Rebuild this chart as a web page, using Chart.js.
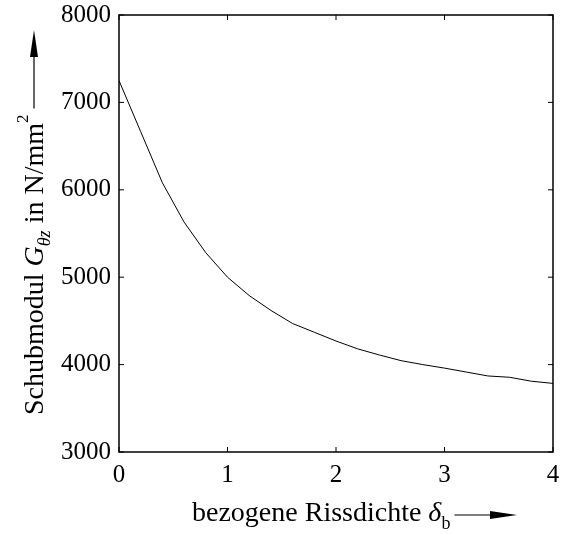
<!DOCTYPE html>
<html>
<head>
<meta charset="utf-8">
<script src="https://cdn.jsdelivr.net/npm/chart.js@4.4.0/dist/chart.umd.min.js"></script>
<style>
  body { margin: 0; background: #fff; }
  #wrap { width: 564px; height: 534px; }
</style>
</head>
<body>
<div id="wrap"><canvas id="shearChart" width="564" height="534"></canvas></div>
<script>
// bezogene Rissdichte (x) and Schubmodul (y)
const crackDensity = [0, 0.2, 0.4, 0.6, 0.8, 1.0, 1.2, 1.4, 1.6, 1.8, 2.0,
                      2.2, 2.4, 2.6, 2.8, 3.0, 3.2, 3.4, 3.6, 3.8, 4.0];
const shearModulus = [7250, 6665, 6080, 5630, 5280, 5000, 4790, 4620, 4470, 4370, 4270,
                      4180, 4110, 4045, 4000, 3960, 3915, 3870, 3855, 3810, 3785];
const xTicks = [0, 1, 2, 3, 4];
const yTicks = [3000, 4000, 5000, 6000, 7000, 8000];

const SERIF = '"Liberation Serif", "Times New Roman", serif';

function drawRich(ctx, parts, x, y) {
    parts.forEach(p => {
        ctx.font = p.font;
        ctx.fillText(p.text, x, y + (p.dy || 0));
        x += ctx.measureText(p.text).width;
    });
    return x;
}

function drawArrow(ctx, x1, x2, y) {
    ctx.beginPath();
    ctx.moveTo(x1, y);
    ctx.lineTo(x2 - 20, y);
    ctx.stroke();
    ctx.beginPath();
    ctx.moveTo(x2, y);
    ctx.lineTo(x2 - 27, y - 4);
    ctx.lineTo(x2 - 27, y + 4);
    ctx.closePath();
    ctx.fill();
}

const framePlugin = {
    id: 'frame',
    afterDraw(chart) {
        const { ctx, chartArea: a, scales: { x, y } } = chart;
        ctx.save();
        ctx.strokeStyle = '#000';
        ctx.fillStyle = '#000';

        ctx.lineWidth = 1.5;
        ctx.strokeRect(a.left, a.top, a.right - a.left, a.bottom - a.top);

        // inward ticks on all four sides
        ctx.lineWidth = 1;
        ctx.beginPath();
        xTicks.forEach(v => {
            const px = x.getPixelForValue(v);
            ctx.moveTo(px, a.bottom); ctx.lineTo(px, a.bottom - 5);
            ctx.moveTo(px, a.top); ctx.lineTo(px, a.top + 5);
        });
        yTicks.forEach(v => {
            const py = y.getPixelForValue(v);
            ctx.moveTo(a.left, py); ctx.lineTo(a.left + 5, py);
            ctx.moveTo(a.right, py); ctx.lineTo(a.right - 5, py);
        });
        ctx.stroke();

        ctx.textBaseline = 'alphabetic';
        ctx.textAlign = 'left';
        ctx.lineWidth = 1.2;

        // x title
        let end = drawRich(ctx, [
            { text: 'bezogene Rissdichte ', font: '28px ' + SERIF },
            { text: 'δ', font: 'italic 28px ' + SERIF },
            { text: 'b', font: '18px ' + SERIF, dy: 8 }
        ], 192, 521);
        drawArrow(ctx, end + 4, 517, 515);

        // y title, rotated
        ctx.save();
        ctx.translate(43, 415);
        ctx.rotate(-Math.PI / 2);
        end = drawRich(ctx, [
            { text: 'Schubmodul ', font: '28px ' + SERIF },
            { text: 'G', font: 'italic 28px ' + SERIF },
            { text: 'θz', font: 'italic 18px ' + SERIF, dy: 7 },
            { text: ' in N/mm', font: '28px ' + SERIF },
            { text: '2', font: '17px ' + SERIF, dy: -15 }
        ], 0, 0);
        drawArrow(ctx, end + 6, 385, -9);
        ctx.restore();

        ctx.restore();
    }
};

new Chart(document.getElementById('shearChart'), {
    type: 'line',
    data: {
        datasets: [{
            data: crackDensity.map((v, i) => ({ x: v, y: shearModulus[i] })),
            borderColor: '#000',
            borderWidth: 1,
            pointRadius: 0,
            tension: 0,
            fill: false
        }]
    },
    options: {
        responsive: false,
        animation: false,
        layout: { padding: { top: 15, right: 11, left: 0, bottom: 0 } },
        plugins: {
            legend: { display: false },
            tooltip: { enabled: false }
        },
        scales: {
            x: {
                type: 'linear',
                min: 0,
                max: 4,
                afterBuildTicks: s => { s.ticks = xTicks.map(v => ({ value: v })); },
                afterFit: s => {
                    s.height = 82;
                    s.paddingLeft = 0;
                    s.paddingRight = 0;
                },
                grid: { display: false, drawTicks: false },
                border: { display: false },
                ticks: {
                    color: '#000',
                    padding: 8,
                    callback: v => String(v),
                    font: { family: SERIF, size: 25 }
                }
            },
            y: {
                type: 'linear',
                min: 3000,
                max: 8000,
                afterBuildTicks: s => { s.ticks = yTicks.map(v => ({ value: v })); },
                afterFit: s => {
                    s.width = 119;
                    s.paddingTop = 0;
                    s.paddingBottom = 0;
                },
                grid: { display: false, drawTicks: false },
                border: { display: false },
                ticks: {
                    color: '#000',
                    padding: 8,
                    callback: v => String(v),
                    font: { family: SERIF, size: 25 }
                }
            }
        }
    },
    plugins: [framePlugin]
});
</script>
</body>
</html>
